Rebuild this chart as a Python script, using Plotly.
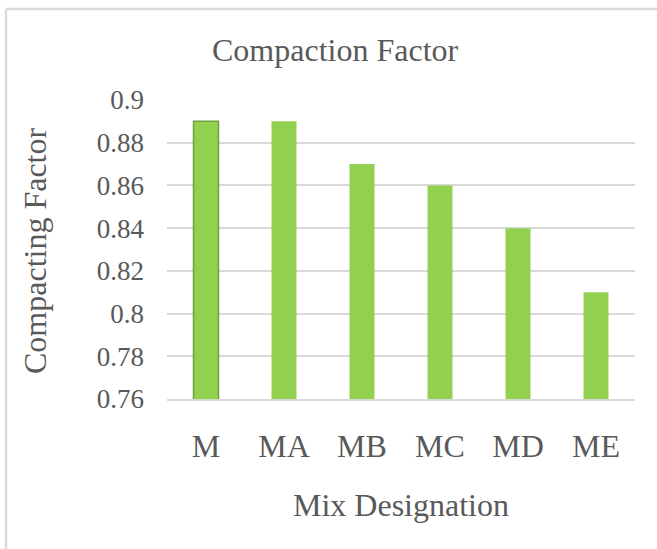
import plotly.graph_objects as go

# Compaction factor per mix
mixes = ["M", "MA", "MB", "MC", "MD", "ME"]
compaction = [0.89, 0.89, 0.87, 0.86, 0.84, 0.81]
y_ticks = [0.76, 0.78, 0.80, 0.82, 0.84, 0.86, 0.88, 0.90]
y_tick_text = ["0.76", "0.78", "0.8", "0.82", "0.84", "0.86", "0.88", "0.9"]

W, H = 657, 549
ML, MR, MT, MB = 167, 22, 100, 150
pw, ph = W - ML - MR, H - MT - MB

def px_x(x):
    return (x - ML) / pw

def px_y(y):
    return (H - MB - y) / ph

FONT = "Liberation Serif, Times New Roman, serif"
TXT = "#595959"

outline = ["#6BA33C"] + ["#92D050"] * (len(mixes) - 1)
fig = go.Figure(go.Bar(
    x=mixes, y=compaction,
    marker=dict(color="#92D050", line=dict(color=outline, width=[1.5] + [0] * 5)),
    width=0.32,
))

fig.update_layout(
    width=W, height=H,
    margin=dict(l=ML, r=MR, t=MT, b=MB),
    paper_bgcolor="white", plot_bgcolor="white",
    showlegend=False,
    font=dict(family=FONT, color=TXT),
    xaxis=dict(
        showgrid=False, showline=True, linecolor="#D9D9D9", linewidth=1.5,
        ticks="", tickfont=dict(size=32, family=FONT, color=TXT),
        ticklabelstandoff=18,
    ),
    yaxis=dict(
        range=[0.76, 0.90], tickvals=y_ticks, ticktext=y_tick_text,
        showgrid=True, gridcolor="#D9D9D9", gridwidth=1.5,
        zeroline=False, showline=False, ticks="",
        tickfont=dict(size=27, family=FONT, color=TXT),
        ticklabelstandoff=22,
    ),
    annotations=[
        dict(text="Compaction Factor", xref="paper", yref="paper",
             x=px_x(335), y=px_y(50), xanchor="center", yanchor="middle",
             showarrow=False, font=dict(size=32, family=FONT, color=TXT)),
        dict(text="Mix Designation", xref="paper", yref="paper",
             x=px_x(401), y=px_y(505), xanchor="center", yanchor="middle",
             showarrow=False, font=dict(size=32, family=FONT, color=TXT)),
        dict(text="Compacting Factor", xref="paper", yref="paper",
             x=px_x(35), y=px_y(251), xanchor="center", yanchor="middle",
             textangle=-90, showarrow=False,
             font=dict(size=32, family=FONT, color=TXT)),
    ],
    shapes=[
        # chart frame: top and left edges
        dict(type="line", xref="paper", yref="paper",
             x0=px_x(6), x1=px_x(W + 5), y0=px_y(9), y1=px_y(9),
             line=dict(color="#D9D9D9", width=2.5)),
        dict(type="line", xref="paper", yref="paper",
             x0=px_x(6), x1=px_x(6), y0=px_y(9), y1=px_y(H + 5),
             line=dict(color="#D9D9D9", width=2.5)),
    ],
)

fig.write_html("out.html")
